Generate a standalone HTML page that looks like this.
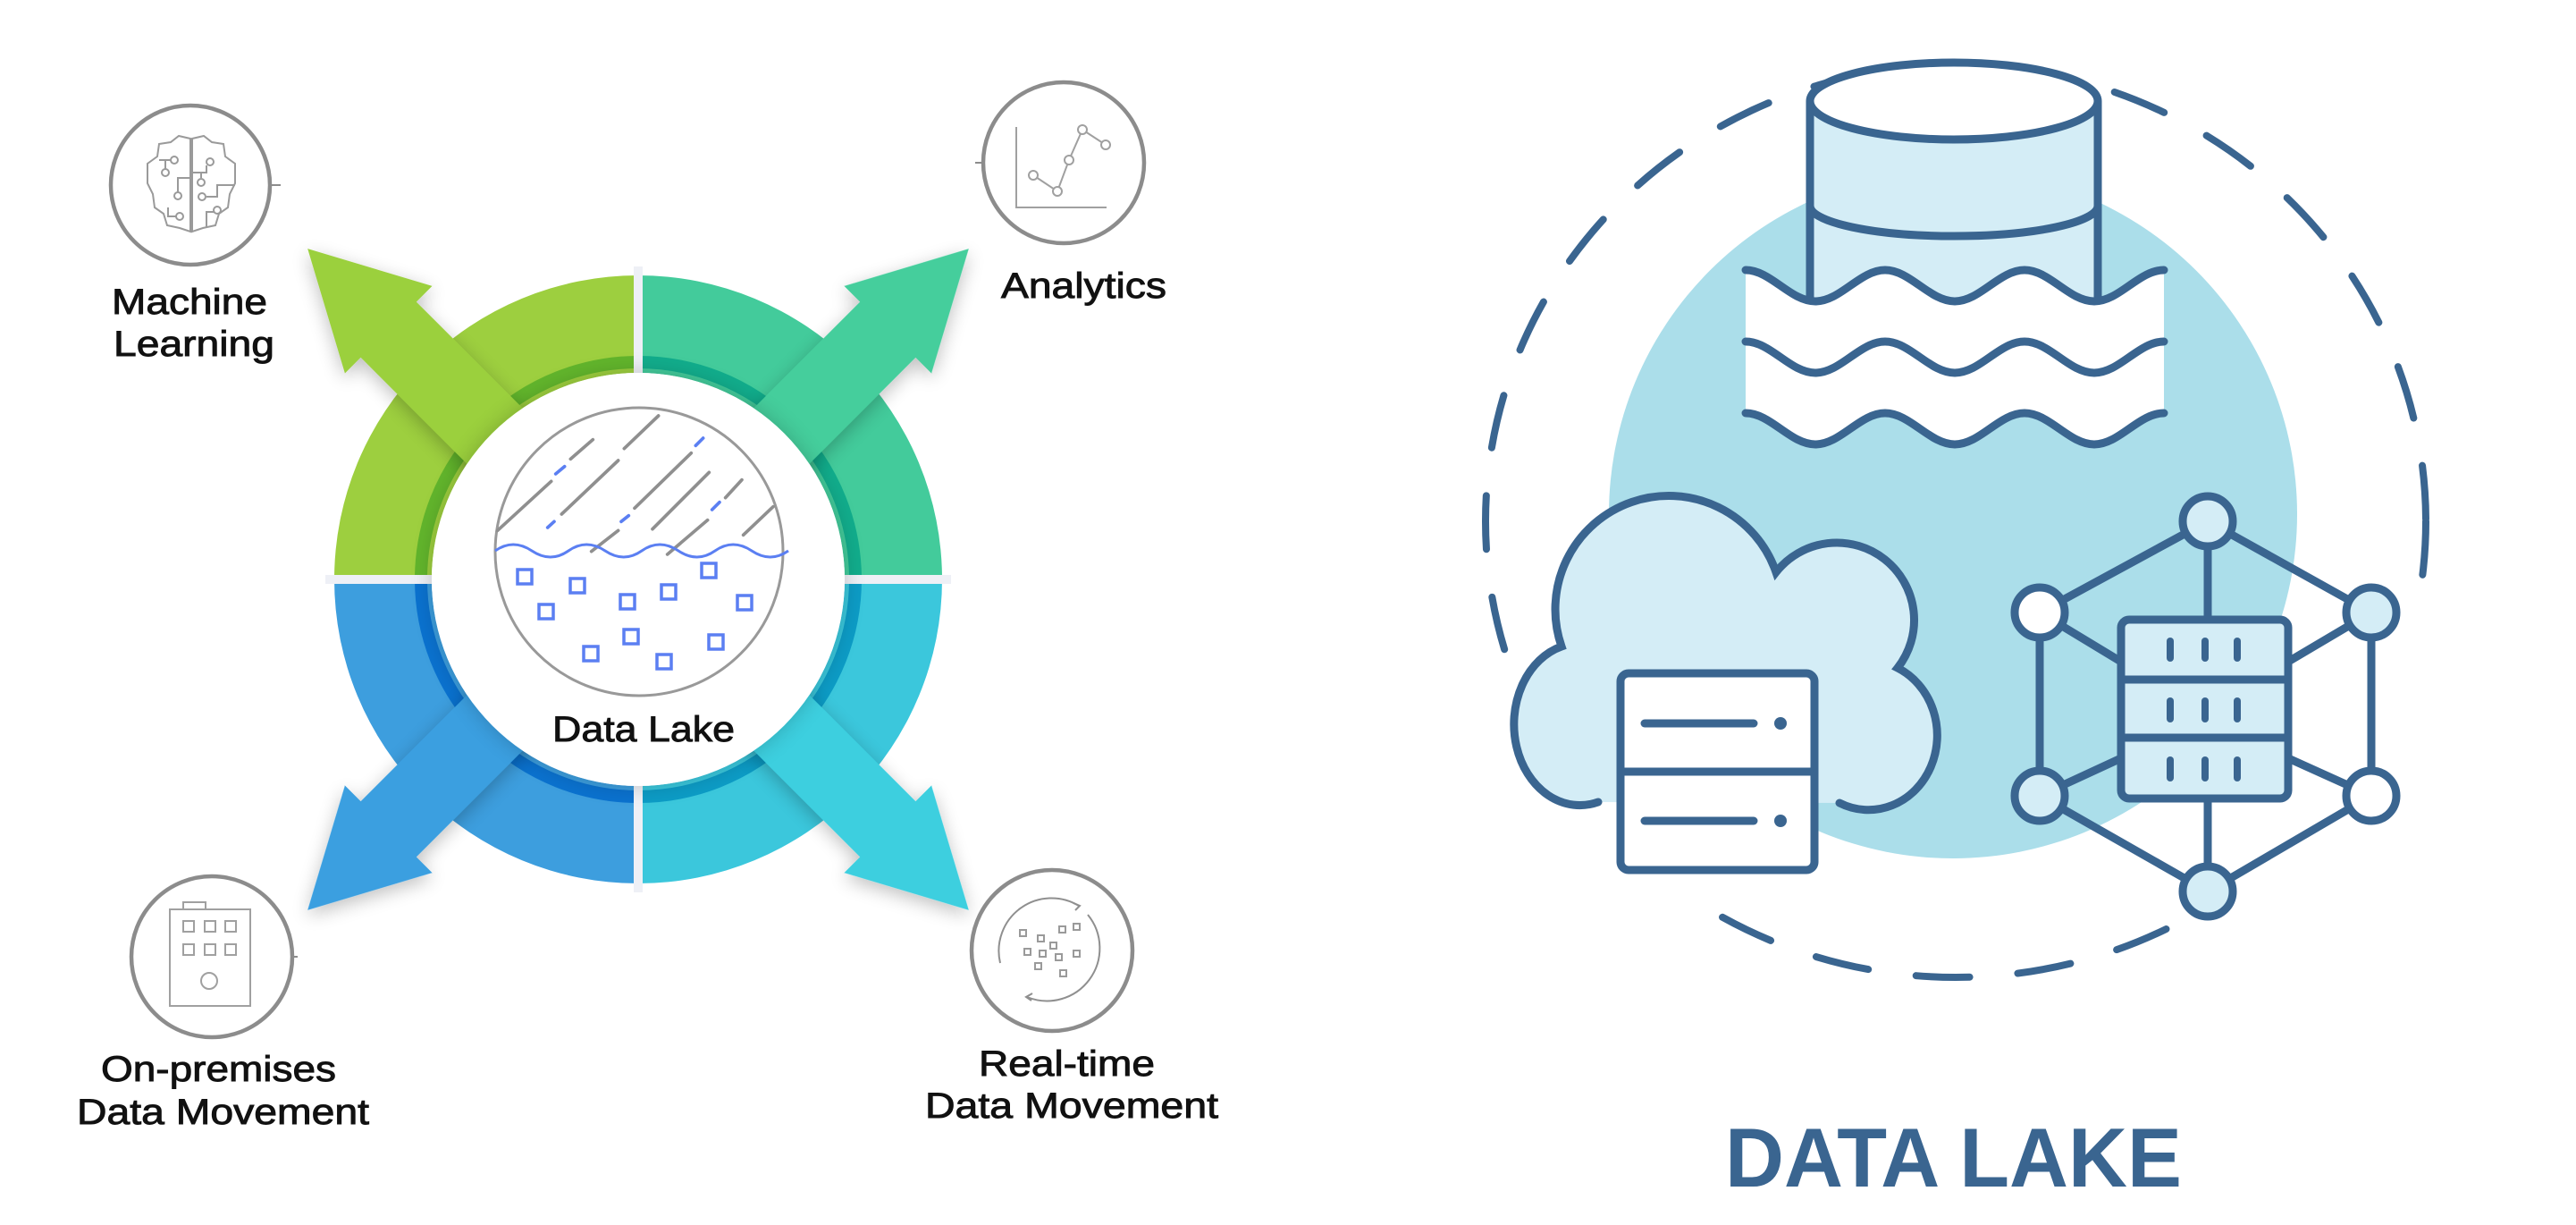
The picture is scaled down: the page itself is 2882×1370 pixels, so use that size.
<!DOCTYPE html>
<html><head><meta charset="utf-8"><style>
html,body{margin:0;padding:0;background:#fff;}
svg{display:block;}
</style></head><body>
<svg width="2882" height="1370" viewBox="0 0 2882 1370" xmlns="http://www.w3.org/2000/svg">
<defs>
<filter id="sh" x="-30%" y="-30%" width="160%" height="160%"><feGaussianBlur in="SourceAlpha" stdDeviation="10"/><feOffset dx="0" dy="6"/><feComponentTransfer><feFuncA type="linear" slope="0.25"/></feComponentTransfer><feMerge><feMergeNode/><feMergeNode in="SourceGraphic"/></feMerge></filter>
<filter id="sh2" x="-30%" y="-30%" width="160%" height="160%"><feGaussianBlur in="SourceAlpha" stdDeviation="12"/><feComponentTransfer><feFuncA type="linear" slope="0.2"/></feComponentTransfer><feMerge><feMergeNode/><feMergeNode in="SourceGraphic"/></feMerge></filter>
<mask id="dm" maskUnits="userSpaceOnUse" x="0" y="0" width="2882" height="1370">
  <rect x="0" y="0" width="2882" height="1370" fill="#fff"/>
  <polygon points="2470,540 2720,665 2720,915 2470,1045 2240,915 2240,665" fill="#000"/>
  <path d="M1788 905 A78 94 0 0 1 1740 723 A133 133 0 0 1 1987 630 A83 83 0 0 1 2130 747 A80 86 0 0 1 2058 906 L2040 985 L1805 985 Z" fill="#000"/>
  <rect x="1765" y="880" width="285" height="125" fill="#000"/>
</mask>
</defs>

<!-- ===== LEFT: donut ===== -->
<g transform="translate(714,648)">
  <path d="M-340 0 A340 340 0 0 1 0 -340 L0 -231 A231 231 0 0 0 -231 0 Z" fill="#9dcf3f"/>
  <path d="M0 -340 A340 340 0 0 1 340 0 L231 0 A231 231 0 0 0 0 -231 Z" fill="#43cb9b"/>
  <path d="M340 0 A340 340 0 0 1 0 340 L0 231 A231 231 0 0 0 231 0 Z" fill="#3bc7dc"/>
  <path d="M0 340 A340 340 0 0 1 -340 0 L-231 0 A231 231 0 0 0 0 231 Z" fill="#3d9ede"/>
  <path d="M-243 0 A243 243 0 0 1 0 -243" fill="none" stroke="#62b52c" stroke-width="14"/>
  <path d="M0 -243 A243 243 0 0 1 243 0" fill="none" stroke="#12ad8c" stroke-width="14"/>
  <path d="M243 0 A243 243 0 0 1 0 243" fill="none" stroke="#0d9cc6" stroke-width="14"/>
  <path d="M0 243 A243 243 0 0 1 -243 0" fill="none" stroke="#0b72cf" stroke-width="14"/>
  <rect x="-5" y="-350" width="10" height="700" fill="#eef0f6"/>
  <rect x="-350" y="-5" width="700" height="10" fill="#eef0f6"/>
  <g filter="url(#sh)">
  <path transform="rotate(225)" d="M150 -44 L395 -44 L395 -69 L523 0 L395 69 L395 44 L150 44 Z" fill="#9bd03e"/>
  <path transform="rotate(315)" d="M150 -44 L395 -44 L395 -69 L523 0 L395 69 L395 44 L150 44 Z" fill="#45ce9c"/>
  <path transform="rotate(135)" d="M150 -44 L395 -44 L395 -69 L523 0 L395 69 L395 44 L150 44 Z" fill="#3a9fe0"/>
  <path transform="rotate(45)" d="M150 -44 L395 -44 L395 -69 L523 0 L395 69 L395 44 L150 44 Z" fill="#3ccfdf"/>
  </g>
  <circle r="231" fill="#fff" filter="url(#sh2)"/>
</g>

<circle cx="715" cy="617" r="161" fill="#fff" stroke="#999" stroke-width="3"/>
<g transform="translate(540,450) scale(0.3333)" stroke-linecap="round" stroke-width="11" fill="none">
  <g stroke="#8f8f8f">
    <line x1="50" y1="430" x2="230" y2="265"/><line x1="295" y1="190" x2="370" y2="125"/>
    <line x1="475" y1="155" x2="590" y2="45"/><line x1="265" y1="375" x2="455" y2="195"/>
    <line x1="365" y1="500" x2="455" y2="430"/><line x1="510" y1="355" x2="700" y2="170"/>
    <line x1="570" y1="425" x2="760" y2="235"/><line x1="620" y1="510" x2="755" y2="395"/>
    <line x1="815" y1="320" x2="870" y2="260"/><line x1="875" y1="445" x2="975" y2="350"/>
  </g>
  <g stroke="#5b7ff2">
    <line x1="245" y1="240" x2="275" y2="215"/><line x1="218" y1="420" x2="240" y2="400"/>
    <line x1="465" y1="400" x2="490" y2="380"/><line x1="715" y1="145" x2="740" y2="120"/>
    <line x1="770" y1="360" x2="795" y2="335"/>
  </g>
</g>
<path d="M554 616 q20 -14 41 0 t41 0 t41 0 t41 0 t41 0 t41 0 t41 0 t41 0" fill="none" stroke="#5b7ff2" stroke-width="3"/>
<g fill="none" stroke="#5b7ff2" stroke-width="3.5">
  <rect x="579" y="637" width="16" height="16"/><rect x="638" y="647" width="16" height="16"/>
  <rect x="603" y="676" width="16" height="16"/><rect x="694" y="665" width="16" height="16"/>
  <rect x="740" y="654" width="16" height="16"/><rect x="785" y="630" width="16" height="16"/>
  <rect x="825" y="666" width="16" height="16"/><rect x="698" y="704" width="16" height="16"/>
  <rect x="653" y="723" width="16" height="16"/><rect x="735" y="732" width="16" height="16"/>
  <rect x="793" y="710" width="16" height="16"/>
</g>

<g fill="none" stroke="#8c8c8c" stroke-width="4.5">
  <circle cx="213" cy="207" r="89"/><line x1="302" y1="207" x2="314" y2="207" stroke-width="2"/>
  <circle cx="1190" cy="182" r="90"/><line x1="1091" y1="182" x2="1100" y2="182" stroke-width="2"/>
  <circle cx="237" cy="1070" r="90"/><line x1="327" y1="1070" x2="333" y2="1070" stroke-width="2"/>
  <circle cx="1177" cy="1063" r="90"/>
</g>
<g transform="translate(213,207)" fill="none" stroke="#9a9a9a" stroke-width="2">
  <path d="M0 -52 L-13 -55 L-22 -48 L-35 -46 L-37 -32 L-48 -24 L-48 -2 L-42 10 L-40 25 L-30 32 L-26 45 L-12 48 L0 52 Z"/>
  <path d="M2 -52 L15 -55 L24 -48 L37 -46 L39 -32 L50 -24 L50 -2 L44 10 L42 25 L32 32 L28 45 L14 48 L2 52 Z"/>
  <path d="M-35 -28 L-22 -28"/><circle cx="-18" cy="-28" r="4"/>
  <path d="M-28 -28 L-28 -18"/><circle cx="-28" cy="-14" r="4"/>
  <path d="M0 -8 L-14 -8 L-14 8"/><circle cx="-14" cy="12" r="4"/>
  <path d="M-25 25 L-25 35 L-16 35"/><circle cx="-12" cy="35" r="4"/>
  <path d="M2 -14 L18 -14 L18 -22"/><circle cx="22" cy="-26" r="4"/>
  <circle cx="12" cy="-3" r="4"/><path d="M12 -8 L12 -14"/>
  <circle cx="13" cy="13" r="4"/><path d="M18 13 L30 13 L30 0 L50 0"/>
  <circle cx="30" cy="28" r="4"/><path d="M26 30 L18 30 L18 48"/>
</g>
<g transform="translate(1190,182)" fill="none" stroke="#a0a0a0" stroke-width="2">
  <path d="M-53 -40 L-53 50 L48 50"/>
  <path d="M-34 14 L-7 32 L6 -3 L21 -37 L47 -20"/>
  <g fill="#fff"><circle cx="-34" cy="14" r="5"/><circle cx="-7" cy="32" r="5"/><circle cx="6" cy="-3" r="5"/><circle cx="21" cy="-37" r="5"/><circle cx="47" cy="-20" r="5"/></g>
</g>
<g transform="translate(237,1070)" fill="none" stroke="#a0a0a0" stroke-width="2">
  <rect x="-47" y="-53" width="90" height="108"/><rect x="-32" y="-61" width="25" height="8"/>
  <rect x="-32" y="-40" width="12" height="12"/><rect x="-8" y="-40" width="12" height="12"/><rect x="15" y="-40" width="12" height="12"/>
  <rect x="-32" y="-14" width="12" height="12"/><rect x="-8" y="-14" width="12" height="12"/><rect x="15" y="-14" width="12" height="12"/>
  <circle cx="-3" cy="27" r="9"/>
</g>
<g transform="translate(1177,1063)" fill="none" stroke="#8f8f8f" stroke-width="2">
  <path d="M-58 14 A59 59 0 0 1 30 -50"/><path d="M40 -40 A59 59 0 0 1 -28 52"/>
  <path d="M24 -53 L31 -50 L26 -45"/><path d="M-22 48 L-29 52 L-23 56"/>
  <g stroke="#9a9a9a"><rect x="-36" y="-23" width="7" height="7"/><rect x="-16" y="-17" width="7" height="7"/><rect x="8" y="-27" width="7" height="7"/><rect x="24" y="-30" width="7" height="7"/><rect x="-2" y="-9" width="7" height="7"/><rect x="-31" y="-2" width="7" height="7"/><rect x="-14" y="0" width="7" height="7"/><rect x="4" y="4" width="7" height="7"/><rect x="24" y="0" width="7" height="7"/><rect x="-19" y="14" width="7" height="7"/><rect x="9" y="22" width="7" height="7"/></g>
</g>

<g font-family="Liberation Sans, sans-serif" font-size="40" fill="#111" stroke="#111" stroke-width="0.9">
  <text x="125" y="351" textLength="174" lengthAdjust="spacingAndGlyphs">Machine</text>
  <text x="127" y="398" textLength="180" lengthAdjust="spacingAndGlyphs">Learning</text>
  <text x="1120" y="333" textLength="185" lengthAdjust="spacingAndGlyphs">Analytics</text>
  <text x="618" y="829" textLength="204" lengthAdjust="spacingAndGlyphs">Data Lake</text>
  <text x="113" y="1209" textLength="263" lengthAdjust="spacingAndGlyphs">On-premises</text>
  <text x="86" y="1257" textLength="327" lengthAdjust="spacingAndGlyphs">Data Movement</text>
  <text x="1095" y="1203" textLength="197" lengthAdjust="spacingAndGlyphs">Real-time</text>
  <text x="1035" y="1250" textLength="328" lengthAdjust="spacingAndGlyphs">Data Movement</text>
</g>

<!-- ===== RIGHT ===== -->
<circle cx="2185" cy="575" r="385" fill="#abdeea"/>
<ellipse cx="2188" cy="583" rx="526" ry="510" fill="none" stroke="#3a6590" stroke-width="8" stroke-dasharray="60 54" stroke-linecap="round" mask="url(#dm)"/>

<g stroke="#3a6590" stroke-width="9" stroke-linejoin="round">
  <path d="M2025 113 L2025 335 L2347 335 L2347 113 Z" fill="#d4edf6" stroke="none"/>
  <line x1="2025" y1="113" x2="2025" y2="335"/><line x1="2347" y1="113" x2="2347" y2="335"/>
  <path d="M2025 230 A161 34 0 0 0 2347 230" fill="none"/>
  <ellipse cx="2186" cy="113" rx="161" ry="43" fill="#fff"/>
</g>
<path d="M1953 302 C1981 302 2003 337 2031 337 S2081 302 2109 302 S2159 337 2187 337 S2237 302 2265 302 S2315 337 2343 337 S2393 302 2421 302 L2421 462 C2393 462 2371 497 2343 497 S2293 462 2265 462 S2215 497 2187 497 S2137 462 2109 462 S2059 497 2031 497 S1981 462 1953 462 Z" fill="#fff"/>
<g fill="none" stroke="#3a6590" stroke-width="9" stroke-linecap="round">
  <path d="M1953 302 C1981 302 2003 337 2031 337 S2081 302 2109 302 S2159 337 2187 337 S2237 302 2265 302 S2315 337 2343 337 S2393 302 2421 302"/>
  <path d="M1953 382 C1981 382 2003 417 2031 417 S2081 382 2109 382 S2159 417 2187 417 S2237 382 2265 382 S2315 417 2343 417 S2393 382 2421 382"/>
  <path d="M1953 462 C1981 462 2003 497 2031 497 S2081 462 2109 462 S2159 497 2187 497 S2237 462 2265 462 S2315 497 2343 497 S2393 462 2421 462"/>
</g>

<path d="M1788 897 A70 86 0 0 1 1747 723 A125 125 0 0 1 1987 640 A75 75 0 0 1 2123 747 A72 78 0 0 1 2058 898 Z" fill="#d4edf6" stroke="none"/>
<path d="M1788 897 A70 86 0 0 1 1747 723 A125 125 0 0 1 1987 640 A75 75 0 0 1 2123 747 A72 78 0 0 1 2058 898" fill="none" stroke="#3a6590" stroke-width="9" stroke-linecap="round"/>
<g stroke="#3a6590" stroke-width="9" stroke-linecap="round">
  <rect x="1813" y="753" width="217" height="220" rx="9" fill="#fff"/>
  <line x1="1813" y1="863" x2="2030" y2="863"/>
  <line x1="1840" y1="809" x2="1962" y2="809"/><line x1="1840" y1="918" x2="1962" y2="918"/>
</g>
<circle cx="1992" cy="809" r="7" fill="#3a6590"/><circle cx="1992" cy="918" r="7" fill="#3a6590"/>

<g stroke="#3a6590" stroke-width="9" stroke-linecap="round">
  <line x1="2470" y1="583" x2="2282" y2="685"/><line x1="2470" y1="583" x2="2653" y2="685"/>
  <line x1="2282" y1="685" x2="2282" y2="890"/><line x1="2653" y1="685" x2="2653" y2="890"/>
  <line x1="2282" y1="890" x2="2470" y2="997"/><line x1="2653" y1="890" x2="2470" y2="997"/>
  <line x1="2470" y1="583" x2="2470" y2="693"/><line x1="2470" y1="893" x2="2470" y2="997"/>
  <line x1="2282" y1="685" x2="2373" y2="740"/><line x1="2653" y1="685" x2="2560" y2="740"/>
  <line x1="2282" y1="890" x2="2373" y2="848"/><line x1="2653" y1="890" x2="2560" y2="848"/>
  <rect x="2373" y="693" width="187" height="200" rx="9" fill="#d4edf6"/>
  <line x1="2373" y1="760" x2="2560" y2="760"/><line x1="2373" y1="825" x2="2560" y2="825"/>
  <g stroke-width="8">
    <line x1="2428" y1="717" x2="2428" y2="736"/><line x1="2467" y1="717" x2="2467" y2="736"/><line x1="2503" y1="717" x2="2503" y2="736"/>
    <line x1="2428" y1="784" x2="2428" y2="804"/><line x1="2467" y1="784" x2="2467" y2="804"/><line x1="2503" y1="784" x2="2503" y2="804"/>
    <line x1="2428" y1="850" x2="2428" y2="870"/><line x1="2467" y1="850" x2="2467" y2="870"/><line x1="2503" y1="850" x2="2503" y2="870"/>
  </g>
  <circle cx="2470" cy="583" r="28" fill="#d4edf6"/>
  <circle cx="2282" cy="685" r="28" fill="#fff"/>
  <circle cx="2653" cy="685" r="28" fill="#d4edf6"/>
  <circle cx="2282" cy="890" r="28" fill="#d4edf6"/>
  <circle cx="2653" cy="890" r="28" fill="#fff"/>
  <circle cx="2470" cy="997" r="28" fill="#d4edf6"/>
</g>

<text x="1930" y="1327" font-family="Liberation Sans, sans-serif" font-weight="bold" font-size="94" fill="#3a6590" textLength="511" lengthAdjust="spacingAndGlyphs">DATA LAKE</text>
</svg>
</body></html>
